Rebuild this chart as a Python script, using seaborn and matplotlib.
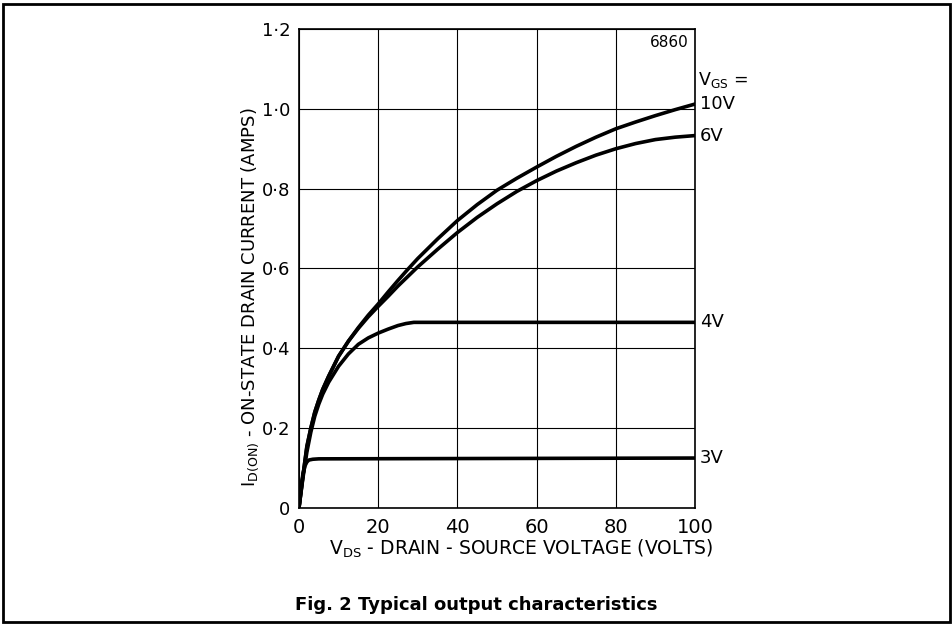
import matplotlib
matplotlib.use("Agg")
import matplotlib.pyplot as plt
import seaborn as sns
import pandas as pd
from matplotlib.patches import Rectangle

# Data
vds_10v = [0, 1, 2, 3, 4, 5, 6, 7.5, 10, 12.5, 15, 17.5, 20, 22.5, 25, 27.5, 30, 35, 40,
           45, 50, 55, 60, 65, 70, 75, 80, 85, 90, 95, 100]
id_10v = [0, 0.08, 0.155, 0.2, 0.24, 0.27, 0.297, 0.33, 0.38, 0.418, 0.452, 0.483, 0.511,
          0.541, 0.57, 0.598, 0.625, 0.674, 0.72, 0.76, 0.796, 0.826, 0.854, 0.881, 0.906,
          0.929, 0.95, 0.967, 0.983, 0.998, 1.012]
vds_6v = [0, 1, 2, 3, 4, 5, 6, 7.5, 10, 12.5, 15, 17.5, 20, 22.5, 25, 27.5, 30, 35, 40,
          45, 50, 55, 60, 65, 70, 75, 80, 85, 90, 95, 100]
id_6v = [0, 0.08, 0.152, 0.2, 0.24, 0.27, 0.297, 0.33, 0.38, 0.418, 0.45, 0.479, 0.505,
         0.53, 0.556, 0.58, 0.604, 0.648, 0.69, 0.728, 0.762, 0.793, 0.82, 0.844, 0.865,
         0.884, 0.90, 0.913, 0.923, 0.929, 0.933]
vds_4v = [0, 1, 2, 3, 4, 5, 6, 7.5, 10, 12.5, 15, 17.5, 20, 22.5, 25, 27, 29, 100]
id_4v = [0, 0.075, 0.14, 0.19, 0.23, 0.26, 0.285, 0.315, 0.355, 0.386, 0.41, 0.426, 0.438,
         0.448, 0.457, 0.462, 0.465, 0.465]
vds_3v = [0, 0.5, 1, 1.5, 2, 2.5, 3.5, 5, 100]
id_3v = [0, 0.05, 0.085, 0.105, 0.115, 0.12, 0.122, 0.123, 0.125]

series_labels = ["10V", "6V", "4V", "3V"]
x_ticks = [0, 20, 40, 60, 80, 100]
y_ticks = [0, 0.2, 0.4, 0.6, 0.8, 1.0, 1.2]
y_tick_labels = ["0", "0·2", "0·4", "0·6", "0·8", "1·0", "1·2"]

sns.set_theme(style="white")
plt.rcParams['font.family'] = ['DejaVu Sans']
plt.rcParams['mathtext.fontset'] = 'dejavusans'

fig = plt.figure(figsize=(9.53, 6.24), dpi=100)
ax = fig.add_axes([0.3137, 0.186, 0.4156, 0.7675])

frames = []
for lab, xs, ys in zip(series_labels,
                       [vds_10v, vds_6v, vds_4v, vds_3v],
                       [id_10v, id_6v, id_4v, id_3v]):
    frames.append(pd.DataFrame({"vds": xs, "id": ys, "vgs": lab}))
df = pd.concat(frames, ignore_index=True)

sns.lineplot(data=df, x="vds", y="id", units="vgs", estimator=None,
             color="black", linewidth=2.6, ax=ax, sort=False)

ax.set_xlim(0, 100)
ax.set_ylim(0, 1.2)
ax.set_xticks(x_ticks)
ax.set_xticklabels([str(t) for t in x_ticks], fontsize=14)
ax.set_yticks(y_ticks)
ax.set_yticklabels(y_tick_labels, fontsize=13)
ax.grid(True, color="black", linewidth=0.8)
for s in ax.spines.values():
    s.set_color("black")
    s.set_linewidth(1.2)
ax.tick_params(axis="both", direction="out", length=4, width=1, color="black",
               pad=2, labelcolor="black")
ax.tick_params(axis="x", pad=3)

ax.set_xlabel(r"V$_{\mathrm{DS}}$ - DRAIN - SOURCE VOLTAGE (VOLTS)", fontsize=13.5,
              color="black")
ax.xaxis.set_label_coords(0.56, -0.086)
ax.xaxis.label.set_va("center")
ax.set_ylabel(r"I$_{\mathrm{D(ON)}}$ - ON-STATE DRAIN CURRENT (AMPS)", fontsize=13,
              color="black")
ax.yaxis.set_label_coords(-0.124, 0.44)
ax.yaxis.label.set_va("center")

# end labels
ends = [id_10v[-1], id_6v[-1], id_4v[-1], id_3v[-1]]
for lab, yv in zip(series_labels, ends):
    ax.text(101.2, yv, lab, fontsize=13, va="center", ha="left", color="black",
            clip_on=False)
ax.text(100.8, 1.072, r"V$_{\mathrm{GS}}$ =", fontsize=12.5, va="center", ha="left",
        color="black", clip_on=False)
ax.text(98.5, 1.185, "6860", fontsize=11, va="top", ha="right", color="black")

fig.text(0.5, 0.03, "Fig. 2 Typical output characteristics", fontsize=13,
         fontweight="bold", ha="center", va="center", color="black")

fig.patches.append(Rectangle((0.003, 0.004), 0.994, 0.99, transform=fig.transFigure,
                             fill=False, edgecolor="black", linewidth=2))

fig.savefig("out.png", dpi=100)
